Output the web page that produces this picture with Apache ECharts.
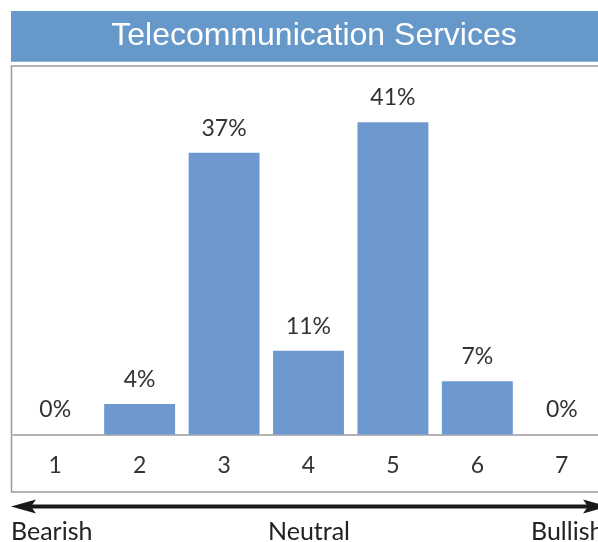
<!DOCTYPE html>
<html>
<head>
<meta charset="utf-8">
<script src="https://cdn.jsdelivr.net/npm/echarts@6/dist/echarts.min.js"></script>
<style>
html,body{margin:0;padding:0;background:#fff;overflow:hidden;width:598px;height:542px;}
#chart{width:614px;height:542px;}
</style>
</head>
<body>
<div id="chart"></div>
<script>
var titleText = 'Telecommunication Services';
var categories = ['1', '2', '3', '4', '5', '6', '7'];
var values = [0, 4, 37, 11, 41, 7, 0];
var scaleLabels = ['Bearish', 'Neutral', 'Bullish'];

var chart = echarts.init(document.getElementById('chart'), null, {renderer: 'canvas'});
var labelFont = 'Lato, "Open Sans", sans-serif';

chart.setOption({
  animation: false,
  backgroundColor: '#ffffff',
  title: {
    text: titleText,
    left: 309,
    top: 15,
    textAlign: 'center',
    textStyle: {color: '#ffffff', fontSize: 32, fontWeight: 'normal', fontFamily: '"Liberation Sans", Arial, sans-serif'}
  },
  grid: {left: 13, width: 591, top: 66, bottom: 107.5, containLabel: false},
  xAxis: {
    type: 'category',
    data: categories,
    axisLine: {show: true, lineStyle: {color: '#9a9a9a', width: 1.5}},
    axisTick: {show: false},
    axisLabel: {color: '#333333', fontSize: 23, fontFamily: labelFont, margin: 20}
  },
  yAxis: {
    type: 'value',
    min: 0,
    max: 48.4,
    show: false,
    splitLine: {show: false}
  },
  series: [{
    type: 'bar',
    data: values,
    barCategoryGap: '16%',
    itemStyle: {color: '#6e98d0'},
    label: {
      show: true,
      position: 'top',
      distance: 13,
      formatter: '{c}%',
      color: '#333333',
      fontSize: 23,
      fontFamily: labelFont
    }
  }],
  graphic: [
    {type: 'rect', z: -1, shape: {x: 11, y: 11, width: 600, height: 50.7}, style: {fill: '#6699c9'}},
    {type: 'rect', z: -1, shape: {x: 11.5, y: 66, width: 600, height: 426}, style: {fill: 'none', stroke: '#9a9a9a', lineWidth: 1.5}},
    {type: 'line', shape: {x1: 24, y1: 506.5, x2: 596, y2: 506.5}, style: {stroke: '#1a1a1a', lineWidth: 4}},
    {type: 'polygon', shape: {points: [[11, 506.5], [36, 499.5], [31, 506.5], [36, 513.5]]}, style: {fill: '#1a1a1a'}},
    {type: 'polygon', shape: {points: [[608, 506.5], [583, 499.5], [588, 506.5], [583, 513.5]]}, style: {fill: '#1a1a1a'}},
    {type: 'text', x: 11, y: 519, style: {text: scaleLabels[0], fill: '#222222', font: '25px ' + labelFont}},
    {type: 'text', x: 309, y: 519, style: {text: scaleLabels[1], fill: '#222222', font: '25px ' + labelFont, textAlign: 'center'}},
    {type: 'text', x: 531, y: 519, style: {text: scaleLabels[2], fill: '#222222', font: '25px ' + labelFont}}
  ]
});
</script>
</body>
</html>
